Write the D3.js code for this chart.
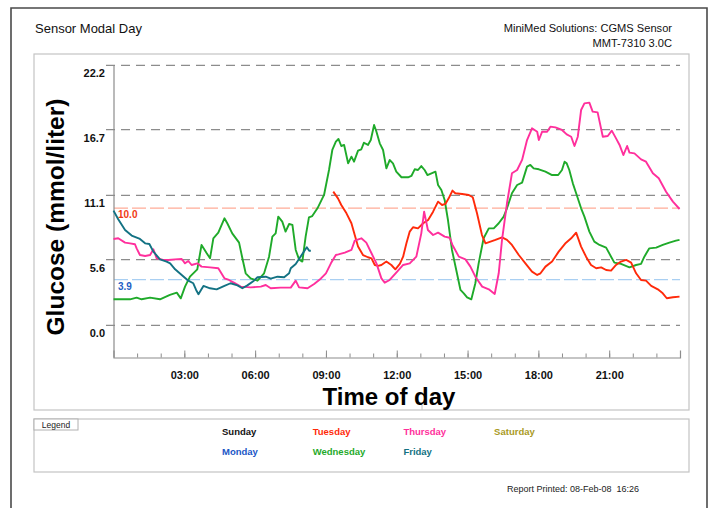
<!DOCTYPE html>
<html>
<head>
<meta charset="utf-8">
<script src="https://cdn.jsdelivr.net/npm/d3@7"></script>
<style>
  body { margin: 0; background: #fff; }
  svg { display: block; font-family: "Liberation Sans", Arial, sans-serif; }
</style>
</head>
<body>
<svg id="chart" width="712" height="508"></svg>
<script>
// glucose ticks (mmol/l) and hours of day
const yTicks = [0.0, 5.6, 11.1, 16.7, 22.2]
const majorHours = [3, 6, 9, 12, 15, 18, 21]
const minorHours = d3.range(1, 24)
const highLimit = 10.0
const lowLimit = 3.9

const legendDays = ['Sunday', 'Monday', 'Tuesday', 'Wednesday', 'Thursday', 'Friday', 'Saturday']
const dayColors = ['#111111', '#1a56c6', '#ff2a0a', '#1faa2a', '#ff2f9c', '#137283', '#a99a1e']

// [hour, glucose]
const friday = [
  [0, 9.79], [0.2, 9.05], [0.49, 8.14], [0.77, 7.66], [1.12, 7.37], [1.34, 7.0], [1.52, 6.94],
  [1.69, 6.29], [1.97, 5.63], [2.25, 5.44], [2.4, 5.29], [2.61, 4.78], [2.89, 4.3], [3.17, 3.81],
  [3.38, 3.59], [3.5, 3.02], [3.6, 2.65], [3.81, 3.36], [4.09, 3.16], [4.37, 3.07], [4.7, 3.36],
  [4.96, 3.59], [5.25, 3.41], [5.46, 3.16], [5.67, 3.41], [5.95, 3.81], [6.1, 4.1], [6.45, 4.15],
  [6.66, 3.98], [6.95, 4.15], [7.23, 4.1], [7.44, 4.44], [7.51, 4.87], [7.72, 5.24], [8.0, 6.09],
  [8.19, 6.66], [8.29, 6.37], [8.36, 6.37]
]

const thursday = [
  [0, 7.37], [0.2, 7.43], [0.49, 7.06], [0.7, 7.0], [0.91, 6.92], [0.98, 6.57], [1.12, 6.0],
  [1.34, 5.92], [1.55, 6.0], [1.69, 6.49], [1.83, 5.72], [2.11, 5.58], [2.32, 5.58], [2.6, 5.63],
  [2.89, 5.66], [3.03, 5.29], [3.17, 5.49], [3.31, 5.15], [3.55, 5.29], [3.73, 5.01], [4.09, 4.95],
  [4.44, 4.87], [4.7, 4.01], [4.89, 3.87], [5.1, 3.64], [5.39, 3.3], [5.81, 3.24], [6.24, 3.3],
  [6.45, 3.44], [6.66, 3.16], [7.08, 3.22], [7.51, 3.22], [7.72, 3.81], [7.86, 3.24], [8.22, 3.16],
  [8.5, 3.53], [8.78, 3.98], [9.0, 4.44], [9.21, 5.29], [9.42, 6.0], [9.53, 6.05], [9.8, 6.2],
  [10.08, 6.43], [10.22, 7.23], [10.5, 7.43], [10.71, 7.06], [10.93, 6.15], [11.14, 5.29],
  [11.35, 4.01], [11.49, 3.64], [11.7, 3.87], [11.98, 4.5], [12.27, 5.15], [12.55, 5.29],
  [12.83, 5.86], [13.04, 7.85], [13.16, 9.7], [13.32, 8.14], [13.54, 7.71], [13.75, 7.91],
  [14.03, 7.57], [14.24, 7.48], [14.36, 6.86], [14.63, 5.86], [14.91, 5.63], [15.12, 5.01],
  [15.33, 4.15], [15.62, 3.3], [15.9, 3.07], [16.15, 2.67], [16.32, 4.44], [16.46, 7.29],
  [16.67, 10.42], [16.88, 12.98], [17.1, 13.26], [17.31, 14.12], [17.52, 15.82], [17.73, 16.82],
  [17.95, 16.53], [18.02, 15.82], [18.16, 16.53], [18.37, 16.53], [18.51, 16.96], [18.72, 16.9],
  [19.0, 16.68], [19.2, 16.3], [19.39, 16.1], [19.53, 15.31], [19.67, 16.1], [19.81, 18.38],
  [19.95, 18.95], [20.16, 19.01], [20.3, 18.24], [20.51, 18.18], [20.73, 16.1], [20.94, 16.16],
  [21.11, 16.62], [21.29, 15.96], [21.44, 15.4], [21.6, 14.54], [21.76, 15.31], [21.86, 14.74],
  [22.07, 14.68], [22.35, 14.17], [22.56, 13.97], [22.85, 12.98], [23.1, 12.55], [23.41, 11.41],
  [23.7, 10.56], [23.98, 9.93]
]

const wednesday = [
  [0, 2.22], [0.7, 2.22], [0.98, 2.36], [1.19, 2.22], [1.55, 2.36], [1.97, 2.22], [2.39, 2.59],
  [2.68, 2.79], [2.85, 2.3], [3.03, 3.3], [3.24, 4.15], [3.55, 4.78], [3.73, 6.86], [3.95, 6.15],
  [4.09, 5.72], [4.23, 7.43], [4.44, 7.91], [4.7, 9.14], [4.82, 8.71], [5.03, 7.85], [5.32, 7.06],
  [5.46, 5.72], [5.6, 4.44], [5.81, 4.01], [6.1, 3.81], [6.38, 4.44], [6.59, 5.86], [6.73, 7.57],
  [6.87, 7.85], [6.98, 9.28], [7.15, 8.85], [7.29, 8.0], [7.44, 8.65], [7.58, 8.57], [7.72, 6.43],
  [7.86, 5.63], [8.0, 5.44], [8.14, 7.57], [8.28, 9.22], [8.42, 9.33], [8.64, 9.99], [8.92, 11.13],
  [9.13, 13.26], [9.27, 14.97], [9.42, 15.68], [9.53, 15.91], [9.65, 15.31], [9.77, 15.4],
  [9.94, 13.83], [10.08, 14.4], [10.19, 13.97], [10.36, 14.91], [10.5, 15.03], [10.61, 15.59],
  [10.78, 15.4], [10.9, 15.82], [11.04, 17.1], [11.14, 16.53], [11.28, 15.54], [11.42, 14.97],
  [11.56, 13.4], [11.7, 14.11], [11.84, 13.83], [11.98, 13.12], [12.2, 12.64], [12.48, 12.64],
  [12.62, 12.75], [12.76, 13.32], [12.9, 13.26], [13.04, 13.6], [13.18, 13.26], [13.3, 12.83],
  [13.47, 12.98], [13.64, 13.12], [13.75, 11.98], [13.89, 11.55], [14.03, 10.7], [14.17, 8.99],
  [14.34, 6.43], [14.55, 4.44], [14.7, 3.02], [14.84, 2.73], [14.98, 2.39], [15.16, 2.22],
  [15.33, 3.59], [15.47, 5.29], [15.68, 7.43], [15.9, 8.28], [16.11, 8.28], [16.32, 8.71],
  [16.53, 9.28], [16.67, 9.99], [16.88, 11.27], [17.1, 11.98], [17.31, 12.18], [17.52, 13.55],
  [17.66, 13.69], [17.8, 13.4], [18.02, 13.32], [18.3, 13.12], [18.58, 12.83], [18.84, 12.83],
  [19.0, 13.26], [19.11, 13.97], [19.2, 13.83], [19.31, 13.26], [19.46, 12.12], [19.6, 11.27],
  [19.81, 9.99], [19.95, 9.28], [20.16, 8.0], [20.37, 7.14], [20.59, 6.86], [20.87, 6.63],
  [21.08, 5.86], [21.22, 5.35], [21.5, 5.24], [21.86, 4.95], [22.14, 5.15], [22.35, 5.24],
  [22.49, 5.86], [22.7, 6.57], [22.99, 6.63], [23.27, 6.86], [23.55, 7.06], [23.83, 7.23],
  [23.98, 7.29]
]

const tuesday = [
  [9.31, 11.41], [9.51, 10.84], [9.65, 10.27], [9.87, 9.56], [10.08, 8.71], [10.22, 7.71],
  [10.36, 6.72], [10.57, 6.0], [10.78, 5.81], [10.93, 5.72], [11.07, 5.15], [11.21, 5.07],
  [11.35, 5.15], [11.56, 5.44], [11.77, 5.15], [11.94, 4.78], [12.13, 5.24], [12.27, 5.86],
  [12.41, 7.0], [12.55, 8.0], [12.69, 8.37], [12.9, 8.28], [13.12, 8.71], [13.33, 8.99],
  [13.54, 9.7], [13.75, 10.56], [13.92, 10.27], [14.06, 10.36], [14.2, 10.84], [14.36, 11.5],
  [14.48, 11.27], [14.77, 11.21], [15.05, 11.13], [15.22, 10.93], [15.4, 9.56], [15.61, 7.71],
  [15.76, 7.0], [15.97, 7.14], [16.18, 7.29], [16.46, 7.51], [16.67, 7.29], [16.88, 6.86],
  [17.17, 6.0], [17.45, 5.29], [17.73, 4.58], [17.95, 4.3], [18.09, 4.44], [18.3, 5.01],
  [18.58, 5.44], [18.86, 6.29], [19.16, 7.03], [19.39, 7.43], [19.6, 7.91], [19.81, 6.72],
  [20.02, 5.86], [20.23, 5.15], [20.45, 4.87], [20.66, 4.95], [20.87, 4.72], [21.08, 4.67],
  [21.29, 5.15], [21.5, 5.44], [21.72, 5.58], [21.93, 5.35], [22.14, 4.44], [22.35, 3.87],
  [22.56, 3.81], [22.78, 3.36], [23.06, 3.07], [23.27, 2.73], [23.44, 2.31], [23.7, 2.39],
  [23.98, 2.45]
]

const series = [
  {day: 'Wednesday', data: wednesday},
  {day: 'Tuesday', data: tuesday},
  {day: 'Thursday', data: thursday},
  {day: 'Friday', data: friday}
]

let svg = d3.select('#chart')
let colorOf = d3.scaleOrdinal().domain(legendDays).range(dayColors)

let x = d3.scaleLinear().domain([0, 24]).range([113.5, 680])
let y = d3.scaleLinear().domain([0, 22.2]).range([325.3, 65.3])
let axisY = 357.5

// page frame
svg.append('path')
  .attr('d', 'M11,508V8H707V508')
  .attr('fill', 'none')
  .attr('stroke', '#4a4a4a')
  .attr('stroke-width', 1.6)

// header
svg.append('text').attr('x', 35).attr('y', 33)
  .attr('font-size', 13).attr('fill', '#111').text('Sensor Modal Day')
svg.append('text').attr('x', 672).attr('y', 32).attr('text-anchor', 'end')
  .attr('font-size', 11.1).attr('fill', '#111').text('MiniMed Solutions: CGMS Sensor')
svg.append('text').attr('x', 672).attr('y', 47).attr('text-anchor', 'end')
  .attr('font-size', 11.1).attr('fill', '#111').text('MMT-7310 3.0C')

// chart and legend boxes
svg.append('rect').attr('x', 34).attr('y', 54).attr('width', 655).attr('height', 356)
  .attr('fill', 'none').attr('stroke', '#c4c4c4').attr('stroke-width', 1.2)
svg.append('line').attr('x1', 422).attr('x2', 422).attr('y1', 405).attr('y2', 410)
  .attr('stroke', '#c4c4c4')
svg.append('rect').attr('x', 34).attr('y', 419).attr('width', 655).attr('height', 53)
  .attr('fill', 'none').attr('stroke', '#c4c4c4').attr('stroke-width', 1.2)

// gridlines
svg.append('g').selectAll('line')
  .data(yTicks)
  .enter().append('line')
    .attr('x1', 106).attr('x2', 680)
    .attr('y1', d => y(d)).attr('y2', d => y(d))
    .attr('stroke', '#8c8c8c')
    .attr('stroke-width', 1.2)
    .attr('stroke-dasharray', '9,6')

svg.append('g').selectAll('text')
  .data(yTicks)
  .enter().append('text')
    .attr('x', 105).attr('y', d => y(d) + 12)
    .attr('text-anchor', 'end')
    .attr('font-size', 11).attr('font-weight', 'bold').attr('fill', '#111')
    .text(d => d3.format('.1f')(d))

// limit lines
let limits = [
  {v: highLimit, line: '#ffac98', label: '#f03a14', dy: 10},
  {v: lowLimit, line: '#a9cff2', label: '#1f5fc4', dy: 10}
]
svg.append('g').selectAll('line')
  .data(limits)
  .enter().append('line')
    .attr('x1', 114).attr('x2', 680)
    .attr('y1', d => y(d.v)).attr('y2', d => y(d.v))
    .attr('stroke', d => d.line)
    .attr('stroke-width', 1.3)
    .attr('stroke-dasharray', '14,4')
svg.append('g').selectAll('text')
  .data(limits)
  .enter().append('text')
    .attr('x', 118).attr('y', d => y(d.v) + d.dy)
    .attr('font-size', 10).attr('font-weight', 'bold')
    .attr('fill', d => d.label)
    .text(d => d3.format('.1f')(d.v))

// axes
svg.append('line').attr('x1', 114).attr('x2', 114).attr('y1', y(22.2)).attr('y2', axisY)
  .attr('stroke', '#8c8c8c').attr('stroke-width', 1.2)

let minorAxis = d3.axisBottom(x).tickValues(minorHours).tickSize(-4).tickFormat('')
let majorAxis = d3.axisBottom(x).tickValues(majorHours).tickSize(-7).tickPadding(14)
  .tickFormat(d => d3.format('02d')(d) + ':00')

let gMinor = svg.append('g').attr('transform', `translate(0,${axisY})`).call(minorAxis)
let gMajor = svg.append('g').attr('transform', `translate(0,${axisY})`).call(majorAxis)
gMinor.select('.domain').remove()
gMajor.select('.domain').attr('stroke', '#8c8c8c').attr('stroke-width', 1.2)
svg.selectAll('.tick line').attr('stroke', '#8c8c8c')
gMajor.selectAll('.tick text')
  .attr('font-family', '"Liberation Sans", Arial, sans-serif')
  .attr('font-size', 11).attr('font-weight', 'bold').attr('fill', '#111')

// axis titles
svg.append('text').attr('x', 389).attr('y', 405).attr('text-anchor', 'middle')
  .attr('font-size', 24).attr('font-weight', 'bold').attr('fill', '#000')
  .text('Time of day')
svg.append('text')
  .attr('transform', 'translate(64,217) rotate(-90)')
  .attr('text-anchor', 'middle')
  .attr('font-size', 24.5).attr('font-weight', 'bold').attr('fill', '#000')
  .text('Glucose (mmol/liter)')

// glucose traces
let line = d3.line().x(d => x(d[0])).y(d => y(d[1]))
svg.append('g').selectAll('path')
  .data(series)
  .enter().append('path')
    .attr('d', d => line(d.data))
    .attr('fill', 'none')
    .attr('stroke', d => colorOf(d.day))
    .attr('stroke-width', 1.9)
    .attr('stroke-linejoin', 'round')

// legend
svg.append('rect').attr('x', 34).attr('y', 419).attr('width', 44).attr('height', 11)
  .attr('fill', '#fff').attr('stroke', '#b0b0b0').attr('stroke-width', 1)
svg.append('text').attr('x', 56).attr('y', 428).attr('text-anchor', 'middle')
  .attr('font-size', 8.5).attr('fill', '#222').text('Legend')

svg.append('g').selectAll('text')
  .data(legendDays)
  .enter().append('text')
    .attr('x', (d, i) => 222 + Math.floor(i / 2) * 90.7)
    .attr('y', (d, i) => 434.5 + (i % 2) * 20)
    .attr('font-size', 9.5).attr('font-weight', 'bold')
    .attr('fill', d => colorOf(d))
    .text(d => d)

svg.append('text').attr('x', 639).attr('y', 492).attr('text-anchor', 'end')
  .attr('font-size', 9).attr('fill', '#222')
  .style('white-space', 'pre')
  .text('Report Printed: 08-Feb-08  16:26')
</script>
</body>
</html>
